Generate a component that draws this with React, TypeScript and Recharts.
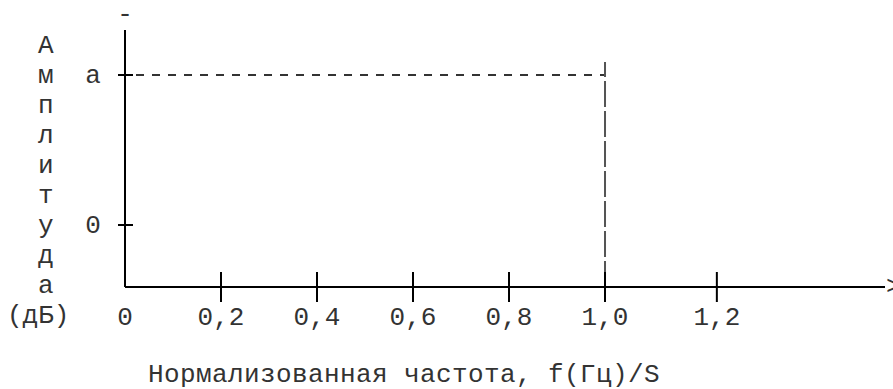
import React from "react";
import { ComposedChart, Line, XAxis, YAxis } from "recharts";

// tick positions (the 1,2 tick sits a bit wider than the rest)
const xTickValues = [0, 0.2, 0.4, 0.6, 0.8, 1.0, 1.233];
const xTickLabels = ["0", "0,2", "0,4", "0,6", "0,8", "1,0", "1,2"];
const yTickValues = [0, 1];
const yTickLabels = ["0", "a"];

// passband level "a" from 0 up to the normalized cutoff 1,0
const passbandX = [0, 1.0];
const passbandY = [1, 1];
// cutoff marker at 1,0
const cutoffX = [1.0, 1.0];
const cutoffY = [-0.413, 1.087];

const yLabelChars = ["А", "м", "п", "л", "и", "т", "у", "д", "а"];
const yLabelUnit = "(дБ)";
const xTitle = "Нормализованная частота, f(Гц)/S";

const passband = passbandX.map((x, i) => ({ x, y: passbandY[i] }));
const cutoff = cutoffX.map((x, i) => ({ x, y: cutoffY[i] }));

const FONT = "'Liberation Mono', 'DejaVu Sans Mono', monospace";
const INK = "#333";

const XTick = (props: any) => {
  const { x, y, index } = props;
  return (
    <g>
      {index > 0 && <line x1={x} x2={x} y1={y - 15} y2={y + 15} stroke="#000" strokeWidth={2} />}
      <text x={x} y={y + 38} textAnchor="middle" fontFamily={FONT} fontSize={26} fill={INK}>
        {xTickLabels[index]}
      </text>
    </g>
  );
};

const YTick = (props: any) => {
  const { x, y, index } = props;
  return (
    <g>
      <line x1={x - 7} x2={x + 8} y1={y} y2={y} stroke="#000" strokeWidth={2} />
      <text x={x - 32} y={y + 8} textAnchor="middle" fontFamily={FONT} fontSize={26} fill={INK}>
        {yTickLabels[index]}
      </text>
    </g>
  );
};

const YLabel = (props: any) => {
  const vb = props.viewBox || {};
  const axisX = vb.x + vb.width;
  const top = vb.y;
  return (
    <g fontFamily={FONT} fontSize={26} fill={INK}>
      <text x={axisX} y={top - 8} textAnchor="middle">-</text>
      {yLabelChars.map((c, i) => (
        <text key={i} x={38} y={top + 23 + i * 30}>
          {c}
        </text>
      ))}
      <text x={7} y={top + 23 + yLabelChars.length * 30}>{yLabelUnit}</text>
    </g>
  );
};

const XLabel = (props: any) => {
  const vb = props.viewBox || {};
  const axisY = vb.y;
  const right = vb.x + vb.width;
  return (
    <g fontFamily={FONT} fontSize={26} fill={INK}>
      <text x={right + 1} y={axisY + 7}>&gt;</text>
      <text x={148} y={axisY + 95} letterSpacing={0.4}>{xTitle}</text>
    </g>
  );
};

export default function App() {
  return (
    <div>
      <style>{`body{margin:0}`}</style>
      <ComposedChart width={893} height={389} margin={{ top: 30, right: 8, bottom: 0, left: 0 }}>
        <XAxis
          dataKey="x"
          type="number"
          domain={[0, 1.5833]}
          allowDataOverflow
          ticks={xTickValues}
          interval={0}
          height={102}
          tickLine={false}
          tickSize={0}
          tickMargin={0}
          tick={<XTick />}
          axisLine={{ stroke: "#000", strokeWidth: 2 }}
          label={<XLabel />}
        />
        <YAxis
          type="number"
          domain={[-0.4133, 1.3]}
          allowDataOverflow
          ticks={yTickValues}
          interval={0}
          width={125}
          tickLine={false}
          tickSize={0}
          tickMargin={0}
          tick={<YTick />}
          axisLine={{ stroke: "#000", strokeWidth: 2 }}
          label={<YLabel />}
        />
        <Line
          data={passband}
          dataKey="y"
          stroke="#333"
          strokeWidth={2}
          strokeDasharray="8 8"
          strokeDashoffset={-11}
          dot={false}
          isAnimationActive={false}
        />
        <Line
          data={cutoff}
          dataKey="y"
          stroke="#555"
          strokeWidth={2}
          strokeDasharray="26 4"
          dot={false}
          isAnimationActive={false}
        />
      </ComposedChart>
    </div>
  );
}
